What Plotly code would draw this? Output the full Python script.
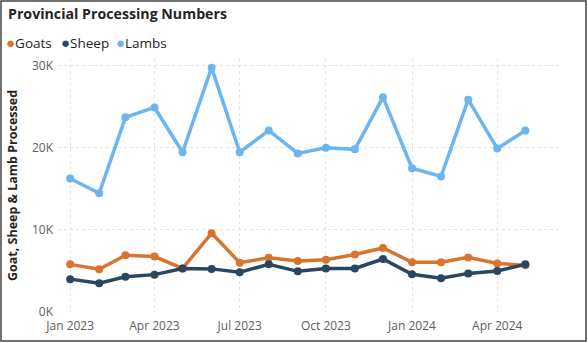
import plotly.graph_objects as go

months = ["2023-01-01", "2023-02-01", "2023-03-01", "2023-04-01", "2023-05-01", "2023-06-01",
          "2023-07-01", "2023-08-01", "2023-09-01", "2023-10-01", "2023-11-01", "2023-12-01",
          "2024-01-01", "2024-02-01", "2024-03-01", "2024-04-01", "2024-05-01"]
goats = [5800, 5200, 6900, 6750, 5300, 9600, 6000, 6600, 6200, 6350, 7000, 7800,
         6050, 6050, 6650, 5900, 5700]
sheep = [4000, 3500, 4300, 4550, 5300, 5250, 4850, 5800, 4950, 5300, 5300, 6450,
         4600, 4100, 4700, 5000, 5800]
lambs = [16250, 14450, 23700, 24900, 19450, 29750, 19450, 22100, 19300, 20000, 19800, 26150,
         17500, 16500, 25850, 19900, 22100]
tick_vals = ["2023-01-01", "2023-04-01", "2023-07-01", "2023-10-01", "2024-01-01", "2024-04-01"]
tick_text = ["Jan 2023", "Apr 2023", "Jul 2023", "Oct 2023", "Jan 2024", "Apr 2024"]
y_ticks = [0, 10000, 20000, 30000]
y_text = ["0K", "10K", "20K", "30K"]

series = [("Goats", goats, "#D9742F"), ("Sheep", sheep, "#2A4660"), ("Lambs", lambs, "#6DB5F0")]

FONT = "Open Sans"
fig = go.Figure()
for name, vals, col in series:
    fig.add_trace(go.Scatter(x=months, y=vals, name=name, mode="lines+markers",
                             line=dict(color=col, width=3.5),
                             marker=dict(color=col, size=8), showlegend=False))

W, H = 588, 343
L, R, T, B = 58, 28, 59, 31
pw, ph = W - L - R, H - T - B

# legend drawn as text annotations
leg_x = [4, 59, 114]
for (name, vals, col), lx in zip(series, leg_x):
    fig.add_annotation(xref="paper", yref="paper", x=(lx - L) / pw, y=(H - B - 42) / ph,
                       xanchor="left", yanchor="middle", showarrow=False,
                       text=f"<span style='color:{col};font-size:15px'>●</span>{name}",
                       font=dict(family=FONT, size=13.5, color="#252423"))

fig.add_shape(type="rect", xref="paper", yref="paper",
              x0=(1 - L) / pw, x1=(586 - L) / pw, y0=(H - B - 341) / ph, y1=(H - B - 1) / ph,
              line=dict(color="#444444", width=1.5), fillcolor="rgba(0,0,0,0)")

fig.update_layout(
    width=W, height=H, margin=dict(l=L, r=R, t=T, b=B),
    paper_bgcolor="white", plot_bgcolor="white",
    title=dict(text="<b>Provincial Processing Numbers</b>", x=8 / W, xanchor="left",
               y=1 - 14 / H, yanchor="middle",
               font=dict(family=FONT, size=14.2, color="#252423")),
    font=dict(family=FONT),
    xaxis=dict(type="date", range=["2022-12-19", "2024-06-07"], tickvals=tick_vals,
               ticktext=tick_text, showgrid=True, gridcolor="#E2E2E2", griddash="dot",
               gridwidth=1, zeroline=False, showline=False, ticks="", ticklabelstandoff=5,
               automargin=False,
               tickfont=dict(family=FONT, size=12, color="#605E5C")),
    yaxis=dict(range=[0, 30800], tickvals=y_ticks, ticktext=y_text, showgrid=True,
               gridcolor="#E2E2E2", griddash="dot", gridwidth=1, zeroline=False,
               showline=False, ticks="", ticklabelstandoff=4,
               tickfont=dict(family=FONT, size=12, color="#605E5C"),
               title=dict(text="<b>Goat, Sheep & Lamb Processed</b>", standoff=11,
                          font=dict(family=FONT, size=12.5, color="#252423"))),
)

fig.write_html("out.html")
